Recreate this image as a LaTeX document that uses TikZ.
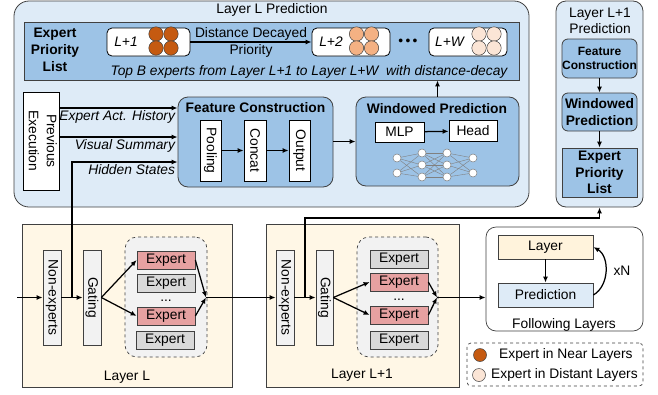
\documentclass[tikz,border=0pt]{standalone}
\usepackage{fontspec}
\setmainfont{Liberation Sans}
\usepackage{graphicx}
\usetikzlibrary{arrows.meta, positioning, calc}

\definecolor{predbg}{HTML}{DEEBF7}
\definecolor{bandblue}{HTML}{9DC3E6}
\definecolor{layercream}{HTML}{FFF7E6}
\definecolor{tilecream}{HTML}{FFF3DC}
\definecolor{boxgray}{HTML}{F2F2F2}
\definecolor{expred}{HTML}{E6A1A1}
\definecolor{expgray}{HTML}{D9D9D9}
\definecolor{nearorange}{HTML}{C55A11}
\definecolor{midorange}{HTML}{F4B183}
\definecolor{farorange}{HTML}{FBE5D6}
\definecolor{edgegray}{HTML}{404040}

\newcommand{\basefont}{\fontsize{13.8pt}{16.5pt}\selectfont}
\newcommand{\vtext}[1]{\rotatebox{-90}{#1}}
% four experts of one layer, drawn as a 2x2 cluster of balls
\newcommand{\expertballs}[3]{%
  \foreach \dx in {-7.5,7.5} \foreach \dy in {-7,7}
    \draw[edgegray, line width=0.5pt, fill=#3] (#1+\dx,#2+\dy) circle[radius=7.2pt];}

\begin{document}
\begin{tikzpicture}[
    x=1pt, y=-1pt,
    every node/.style={font=\basefont, align=center},
    predbox/.style={draw=edgegray, fill=predbg, rounded corners=15pt, line width=0.8pt, inner sep=0pt},
    bandbox/.style={draw=edgegray, fill=bandblue, line width=0.8pt, inner sep=0pt},
    slotbox/.style={draw=black, fill=white, rounded corners=5pt, line width=0.8pt, minimum height=28pt, inner sep=0pt},
    whitebox/.style={draw=black, fill=white, line width=0.7pt, inner sep=0pt},
    layerbox/.style={draw=edgegray, fill=layercream, line width=0.8pt, inner sep=0pt},
    slimbox/.style={draw=edgegray, fill=boxgray, line width=0.7pt, minimum width=18pt, minimum height=95pt, inner sep=0pt},
    groupbox/.style={draw=edgegray, dashed, fill=boxgray, rounded corners=12pt, line width=0.7pt, minimum width=82pt, minimum height=120pt},
    expbox/.style={draw=edgegray, line width=0.7pt, minimum width=58pt, minimum height=18pt, inner sep=0pt},
    hot/.style={expbox, fill=expred},
    cold/.style={expbox, fill=expgray},
    neuron/.style={circle, draw=gray, fill=white, line width=0.5pt, minimum size=8pt, inner sep=0pt},
    synapse/.style={gray, line width=0.4pt},
    boldtext/.style={font=\fontsize{13.8pt}{16.5pt}\selectfont\bfseries},
    flowlabel/.style={font=\basefont\itshape, inner sep=2pt},
    arrow/.style={line width=1.25pt, -{Latex[length=6pt,width=5pt]}}
]
\useasboundingbox (0,0) rectangle (658,394);

% ---- Layer L prediction panel
\node[predbox, minimum width=515pt, minimum height=206pt] (predL) at (271.5,104) {};
\node[anchor=base] (predLtitle) at (272,13) {Layer L Prediction};

\node[bandbox, minimum width=495pt, minimum height=58pt] (band) at (271.5,51) {};
\node[font=\fontsize{13.8pt}{17pt}\selectfont\bfseries] (bandtitle) at (55,50) {Expert\\Priority\\List};

\node[slotbox, minimum width=83pt] (slot1) at (148.5,42) {};
\node[anchor=base] (slot1txt) at (126,46) {\textit{L+1}};
\expertballs{163.5}{41}{nearorange}
\node[slotbox, minimum width=78pt] (slot2) at (351,42) {};
\node[anchor=base] (slot2txt) at (331,46) {\textit{L+2}};
\expertballs{364}{41}{midorange}
\node (slotdots) at (408,42) {\textbullet\,\textbullet\,\textbullet};
\node[slotbox, minimum width=78pt] (slot3) at (468,42) {};
\node[anchor=base] (slot3txt) at (450,46) {\textit{L+W}};
\expertballs{486.5}{41}{farorange}

\draw[arrow] (slot1) -- node[above, inner sep=1pt] {Distance Decayed}
    node[below, inner sep=1.5pt] {Priority} (slot2);
\node[anchor=base, font=\basefont\itshape] (bandnote) at (309,75)
    {Top B experts from Layer L+1 to Layer L+W\ \ with distance-decay};

% inputs and feature construction
\node[whitebox, minimum width=33pt, minimum height=98pt] (prev) at (41.5,141)
    {\vtext{\fontsize{13.8pt}{18pt}\selectfont\begin{tabular}{@{}c@{}}Previous\\Execution\end{tabular}}};
\coordinate (rowact) at (0,108);
\coordinate (rowvis) at (0,137);
\coordinate (rowhid) at (0,162);

\node[bandbox, rounded corners=10pt, minimum width=155pt, minimum height=90pt] (feat) at (255.5,142) {};
\node[anchor=base, boldtext] (feattitle) at (255.5,112) {Feature Construction};
\node[whitebox, minimum width=21pt, minimum height=61pt] (pool) at (210.5,150.5) {\vtext{Pooling}};
\node[whitebox, minimum width=22pt, minimum height=61pt] (concat) at (255,150.5) {\vtext{Concat}};
\node[whitebox, minimum width=21pt, minimum height=61pt] (outp) at (299.5,150.5) {\vtext{Output}};
\draw[arrow] (pool) -- (concat);
\draw[arrow] (concat) -- (outp);

\draw[arrow] (prev.east |- rowact) -- (feat.west |- rowact)
    node[pos=1, anchor=north east, flowlabel] {Expert Act. History};
\draw[arrow] (prev.east |- rowvis) -- (feat.west |- rowvis)
    node[pos=1, anchor=north east, flowlabel] {Visual Summary};

% windowed prediction
\node[bandbox, rounded corners=10pt, minimum width=163pt, minimum height=89pt] (wind) at (437.5,141.5) {};
\node[anchor=base, boldtext] (windtitle) at (437,113) {Windowed Prediction};
\node[whitebox, minimum width=49pt, minimum height=20pt] (mlp) at (399.5,132) {MLP};
\node[whitebox, minimum width=48pt, minimum height=21pt] (head) at (473,131) {Head};
\draw[arrow] (mlp) -- (head);

\foreach \y [count=\j] in {158,173} \node[neuron] (na\j) at (397,\y) {};
\foreach \y [count=\j] in {153,165,177} \node[neuron] (nb\j) at (422,\y) {};
\foreach \y [count=\j] in {153,165,177} \node[neuron] (nc\j) at (447,\y) {};
\foreach \y [count=\j] in {158,173} \node[neuron] (nd\j) at (473,\y) {};
\foreach \i in {1,2} \foreach \j in {1,2,3} {
  \draw[synapse] (na\i) -- (nb\j);
  \draw[synapse] (nc\j) -- (nd\i);
}
\foreach \i in {1,2,3} \foreach \j in {1,2,3} \draw[synapse] (nb\i) -- (nc\j);

\draw[arrow] (feat.east |- wind) -- (wind.west);
\draw[arrow] (wind.north) -- (wind.north |- band.south);

% ---- Layer L+1 prediction column
\node[predbox, rounded corners=10pt, minimum width=87pt, minimum height=206pt] (predN) at (599.5,104) {};
\node (predNtitle) at (600,21) {Layer L+1\\Prediction};
\node[bandbox, rounded corners=6pt, minimum width=75pt, minimum height=39pt,
      font=\fontsize{12pt}{14pt}\selectfont\bfseries] (feat2) at (599.5,58.5) {Feature\\Construction};
\node[bandbox, rounded corners=6pt, minimum width=75pt, minimum height=38pt, boldtext] (wind2) at (599.5,112) {Windowed\\Prediction};
\node[bandbox, minimum width=75pt, minimum height=49pt, boldtext] (list2) at (599.5,172.5) {Expert\\Priority\\List};
\draw[arrow] (feat2) -- (wind2);
\draw[arrow] (wind2) -- (list2);

% ---- Layer L
\node[layerbox, minimum width=210pt, minimum height=163pt] (layL) at (127,305.5) {};
\node[anchor=base] (layLtitle) at (127,380) {Layer L};
\node[slimbox] (nonL) at (52,297.5) {\vtext{Non-experts}};
\node[slimbox] (gateL) at (92,297.5) {\vtext{Gating}};
\node[groupbox] (grpL) at (166,297) {};
\node[hot] (eL1) at (166,260) {Expert};
\node[cold] (eL2) at (166,283) {Expert};
\node[anchor=base] (eLdots) at (166,301) {...};
\node[hot] (eL3) at (166,316) {Expert};
\node[cold] (eL4) at (165,340) {Expert};
\coordinate (inL) at (17,297.5);
\coordinate (tapL) at (72,297.5);
\coordinate (mixL) at (206,297.5);

\draw[arrow] (inL) -- (nonL);
\draw[arrow] (nonL) -- (gateL);
\draw[arrow] (gateL.east) -- (eL1.west);
\draw[arrow] (gateL.east) -- (eL3.west);
\draw[arrow] (eL1.east) -- (mixL);
\draw[arrow] (eL3.east) -- (mixL);
\draw[arrow] (tapL) |- (feat.west |- rowhid)
    node[pos=1, anchor=north east, flowlabel] {Hidden States};

% ---- Layer L+1
\node[layerbox, minimum width=193pt, minimum height=163pt] (layN) at (362.5,305.5) {};
\node[anchor=base] (layNtitle) at (362,378) {Layer L+1};
\node[slimbox] (nonN) at (285,297.5) {\vtext{Non-experts}};
\node[slimbox, minimum width=17pt] (gateN) at (324.5,297.5) {\vtext{Gating}};
\node[groupbox, minimum width=81pt] (grpN) at (397.5,297) {};
\node[cold] (eN1) at (399,259) {Expert};
\node[hot] (eN2) at (399,282) {Expert};
\node[anchor=base] (eNdots) at (399,300) {...};
\node[hot] (eN3) at (399,315) {Expert};
\node[cold] (eN4) at (399,340) {Expert};
\coordinate (tapN) at (305,297.5);
\coordinate (mixN) at (437,297.5);
\coordinate (busN) at (0,218);

\draw[arrow] (mixL) -- (nonN);
\draw[arrow] (nonN) -- (gateN);
\draw[arrow] (gateN.east) -- (eN2.west);
\draw[arrow] (gateN.east) -- (eN3.west);
\draw[arrow] (eN2.east) -- (mixN);
\draw[arrow] (eN3.east) -- (mixN);
\draw[arrow] (tapN) |- (predN.south |- busN) -- (predN.south);

% ---- following layers
\node[whitebox, draw=edgegray, rounded corners=10pt, minimum width=157pt, minimum height=104pt] (follow) at (564.5,279) {};
\node[anchor=base] (followtitle) at (564,328) {Following Layers};
\node[layerbox, fill=tilecream, minimum width=95pt, minimum height=24pt] (lyr) at (545.5,247) {Layer};
\node[layerbox, fill=predbg, minimum width=95pt, minimum height=24pt] (prd) at (545.5,295) {Prediction};
\draw[arrow] (lyr) -- (prd);
\draw[arrow] (prd.east) to[bend right=60] (lyr.east);
\node (repeat) at (622,271) {xN};
\draw[arrow] (mixN) -- (follow.west |- mixN);

% ---- legend
\node[draw=edgegray, dashed, rounded corners=4pt, line width=0.7pt, fill=white,
      minimum width=176pt, minimum height=43pt] (legend) at (555,364.5) {};
\draw[edgegray, line width=0.5pt, fill=nearorange] (480,355) circle[radius=6.5pt];
\draw[edgegray, line width=0.5pt, fill=farorange] (479,375) circle[radius=6.5pt];
\node[anchor=west, inner sep=0pt] (legnear) at (499,355) {Expert in Near Layers};
\node[anchor=west, inner sep=0pt] (legfar) at (491,375) {Expert in Distant Layers};

\end{tikzpicture}
\end{document}
